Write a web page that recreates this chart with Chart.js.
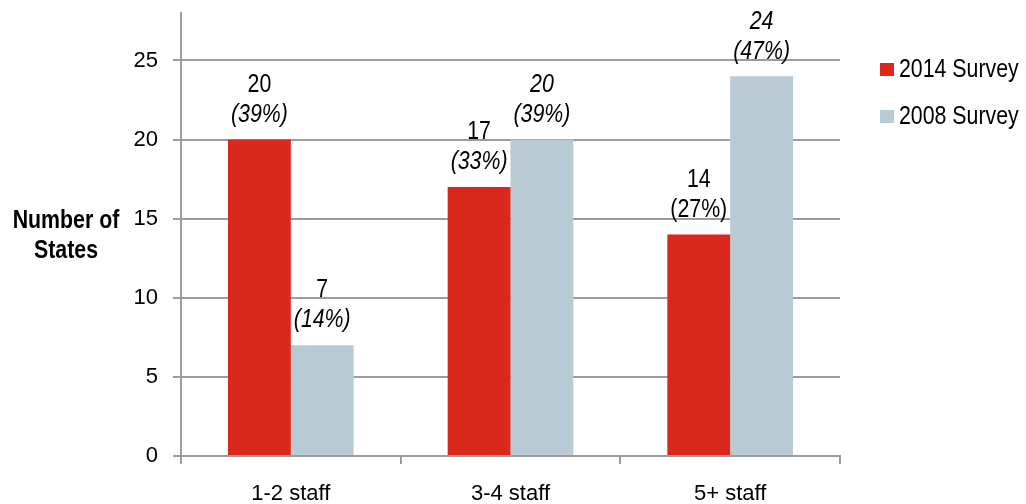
<!DOCTYPE html>
<html>
<head>
<meta charset="utf-8">
<script src="https://cdn.jsdelivr.net/npm/chart.js@4.4.0/dist/chart.umd.min.js"></script>
<style>
  html, body { margin: 0; padding: 0; background: #ffffff; }
  #wrap { width: 1026px; height: 504px; position: relative; }
</style>
</head>
<body>
<div id="wrap"><canvas id="c" width="1026" height="504"></canvas></div>
<script>
const categories = ['1-2 staff', '3-4 staff', '5+ staff'];
const seriesNames = ['2014 Survey', '2008 Survey'];
const values2014 = [20, 17, 14];
const values2008 = [7, 20, 24];
const pct2014 = ['(39%)', '(33%)', '(27%)'];
const pct2008 = ['(14%)', '(39%)', '(47%)'];
const italicNum2014 = [false, false, false];
const italicPct2014 = [true, true, false];
const italicNum2008 = [false, true, true];
const italicPct2008 = [true, true, true];
const yTicks = [0, 5, 10, 15, 20, 25];
const yTitle = ['Number of', 'States'];

const RED = '#DA291C';
const GRAY = '#B8CAD4';
const GRID = '#9c9c9c';
const FAM = "'Liberation Sans', Arial, sans-serif";
const NARROW = 0.82;

function narrowText(ctx, text, x, y, font, align) {
  ctx.save();
  ctx.font = font;
  ctx.textAlign = align;
  ctx.textBaseline = 'middle';
  ctx.translate(x, y);
  ctx.scale(NARROW, 1);
  ctx.fillText(text, 0, 0);
  ctx.restore();
}

const labelPlugin = {
  id: 'barLabels',
  afterDatasetsDraw(chart) {
    const ctx = chart.ctx;
    const sets = [
      {nums: values2014, pcts: pct2014, inum: italicNum2014, ipct: italicPct2014},
      {nums: values2008, pcts: pct2008, inum: italicNum2008, ipct: italicPct2008}
    ];
    ctx.save();
    ctx.fillStyle = '#000';
    sets.forEach((s, di) => {
      const meta = chart.getDatasetMeta(di);
      meta.data.forEach((el, i) => {
        narrowText(ctx, String(s.nums[i]), el.x, el.y - 55, (s.inum[i] ? 'italic ' : '') + '26px ' + FAM, 'center');
        narrowText(ctx, s.pcts[i], el.x, el.y - 25, (s.ipct[i] ? 'italic ' : '') + '26px ' + FAM, 'center');
      });
    });
    // y title
    narrowText(ctx, yTitle[0], 66, 221, 'bold 26px ' + FAM, 'center');
    narrowText(ctx, yTitle[1], 66, 251, 'bold 26px ' + FAM, 'center');
    // legend
    chart.data.datasets.forEach((ds, di) => {
      const cy = 70 + di * 47;
      ctx.fillStyle = ds.backgroundColor;
      ctx.fillRect(880, cy - 7, 14, 13);
      ctx.fillStyle = '#000';
      narrowText(ctx, ds.label, 899, cy, '26px ' + FAM, 'left');
    });
    ctx.restore();
  }
};

new Chart(document.getElementById('c'), {
  type: 'bar',
  data: {
    labels: categories,
    datasets: [
      {label: seriesNames[0], data: values2014, backgroundColor: RED},
      {label: seriesNames[1], data: values2008, backgroundColor: GRAY}
    ]
  },
  options: {
    responsive: false,
    animation: false,
    devicePixelRatio: 1,
    layout: {padding: {top: 0, right: 186, left: 0, bottom: 0}},
    plugins: {legend: {display: false}, tooltip: {enabled: false}},
    datasets: {bar: {barPercentage: 1.0, categoryPercentage: 0.572}},
    scales: {
      x: {
        grid: {display: true, drawOnChartArea: false, drawTicks: true, tickLength: 8, color: GRID, lineWidth: 2, offset: true},
        border: {display: true, color: GRID, width: 2},
        ticks: {color: '#000', font: {family: FAM, size: 22}, padding: 17, maxRotation: 0},
        afterFit(scale) { scale.height = 48; scale.paddingLeft = 0; scale.paddingRight = 0; }
      },
      y: {
        min: 0, max: 28,
        afterBuildTicks(scale) { scale.ticks = yTicks.map(v => ({value: v})); },
        grid: {color: GRID, lineWidth: 2, tickLength: 8, drawTicks: true},
        border: {display: true, color: GRID, width: 2},
        ticks: {color: '#000', font: {family: FAM, size: 22}, padding: 15},
        afterFit(scale) { scale.width = 181; scale.paddingTop = 13; scale.paddingBottom = 0; }
      }
    }
  },
  plugins: [labelPlugin]
});
</script>
</body>
</html>
